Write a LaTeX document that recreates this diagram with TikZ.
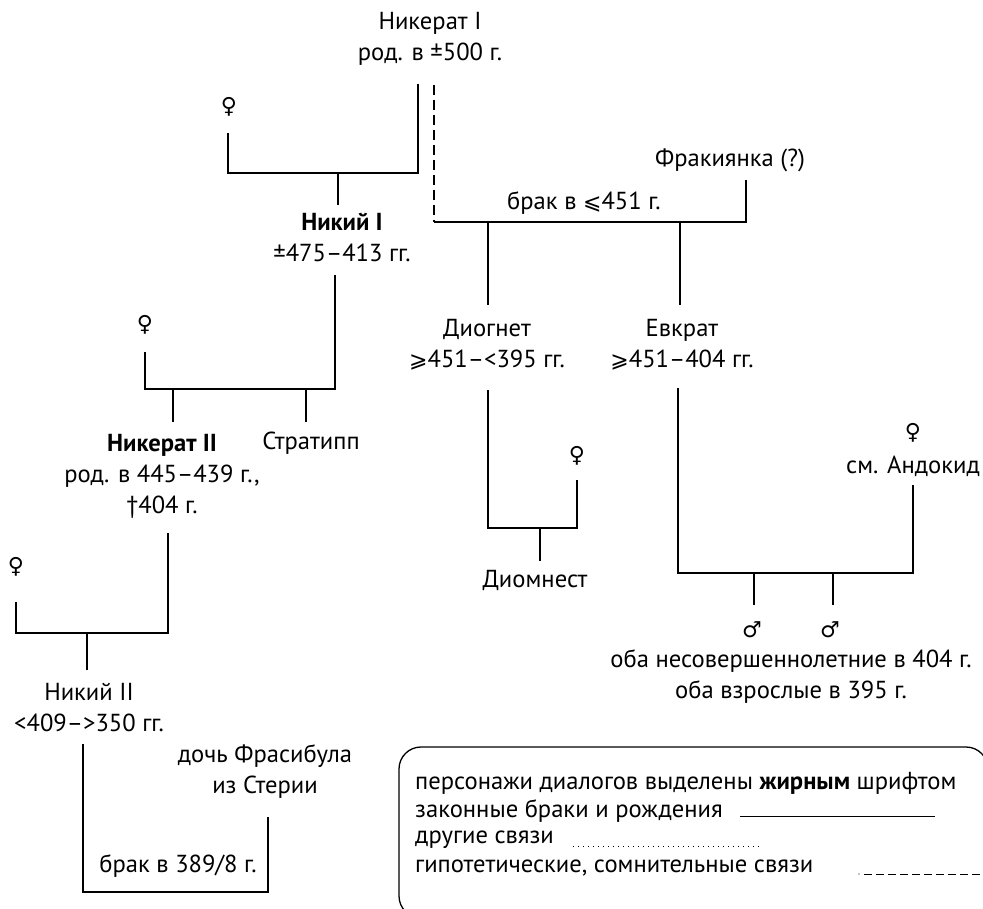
\documentclass[tikz,border=0pt]{standalone}
\usepackage{fontspec}
\setmainfont{PT Sans}
\newfontfamily\symf{DejaVu Sans}
\begin{document}
\begin{tikzpicture}[x=1pt,y=-1pt,
  txt/.style={inner sep=0pt, align=center, font=\fontsize{24.6}{31}\selectfont},
  lgd/.style={inner sep=0pt, anchor=west, font=\fontsize{24.6}{29}\selectfont},
  sym/.style={inner sep=0pt, font=\symf\fontsize{22}{22}\selectfont},
  ln/.style={line width=1.3pt},
  dsh/.style={line width=1.3pt, dash pattern=on 10pt off 5pt},
  dts/.style={line width=1pt, dash pattern=on 1pt off 4pt},
  lgdash/.style={line width=1pt, dash pattern=on 8pt off 4pt},
]
\useasboundingbox (0,0) rectangle (983,909);
\newcommand{\lesym}{{\symf\fontsize{22}{22}\selectfont ⩽}}
\newcommand{\gesym}{{\symf\fontsize{22}{22}\selectfont ⩾}}

% ---------- persons ----------
\node[txt] (N1) at (430,39) {Никерат I\\род. в ±500 г.};
\node[sym] (W1) at (229,107) {♀};
\node[txt] (K1) at (342,237) {\textbf{Никий I}\\±475–413 гг.};
\node[txt] (TH) at (730,160) {Фракиянка (?)};
\node[txt] (M1) at (584,203) {брак в \lesym451 г.};
\node[txt] (DG) at (487,345) {Диогнет\\\gesym451–<395 гг.};
\node[txt] (EV) at (682,345) {Евкрат\\\gesym451–404 гг.};
\node[sym] (W2) at (145,325) {♀};
\node[txt] (N2) at (162,476) {\textbf{Никерат II}\\род. в 445–439 г.,\\†404 г.};
\node[txt] (ST) at (311,443) {Стратипп};
\node[sym] (W3) at (577,456) {♀};
\node[txt] (DM) at (535,580) {Диомнест};
\node[sym] (W4) at (913,433) {♀};
\node[txt] (AN) at (913,466) {см. Андокид};
\node[sym] (S1) at (752,630) {♂};
\node[sym] (S2) at (830,630) {♂};
\node[txt] (SN) at (791,677) {оба несовершеннолетние в 404 г.\\оба взрослые в 395 г.};
\node[sym] (W5) at (16,567) {♀};
\node[txt] (K2) at (89,708) {Никий II\\<409–>350 гг.};
\node[txt] (DF) at (265,772) {дочь Фрасибула\\из Стерии};
\node[txt] (M2) at (178,866) {брак в 389/8 г.};

% ---------- junction coordinates ----------
\coordinate (n1s) at (418,84);
\coordinate (j1r) at (418,173);
\coordinate (j1l) at (228,173);
\coordinate (w1s) at (228,133);
\coordinate (j1m) at (338,173);
\coordinate (k1n) at (338,205);

\coordinate (n1d) at (434,85);
\coordinate (j2l) at (434,222);
\coordinate (j2r) at (746,222);
\coordinate (ths) at (746,180);
\coordinate (j2a) at (488,222);
\coordinate (dgn) at (488,305);
\coordinate (j2b) at (680,222);
\coordinate (evn) at (680,305);

\coordinate (k1s) at (335,275);
\coordinate (j3r) at (335,389);
\coordinate (j3l) at (145,389);
\coordinate (w2s) at (145,352);
\coordinate (j3a) at (173,389);
\coordinate (n2n) at (173,422);
\coordinate (j3b) at (306,389);
\coordinate (stn) at (306,422);

\coordinate (dgs) at (488,390);
\coordinate (j4l) at (488,528);
\coordinate (j4r) at (577,528);
\coordinate (w3s) at (577,480);
\coordinate (j4m) at (540,528);
\coordinate (dmn) at (540,561);

\coordinate (evs) at (678,388);
\coordinate (j5l) at (678,573);
\coordinate (j5r) at (913,573);
\coordinate (ans) at (913,485);
\coordinate (j5a) at (754,573);
\coordinate (s1n) at (754,605);
\coordinate (j5b) at (833,573);
\coordinate (s2n) at (833,605);

\coordinate (n2s) at (168,533);
\coordinate (j6r) at (168,633);
\coordinate (j6l) at (16,633);
\coordinate (w5s) at (16,602);
\coordinate (j6m) at (87,633);
\coordinate (k2n) at (87,670);

\coordinate (k2s) at (83,744);
\coordinate (j7l) at (83,892);
\coordinate (j7r) at (268,892);
\coordinate (dfs) at (268,817);

% ---------- connectors ----------
\draw[ln] (n1s) -- (j1r) -- (j1l) -- (w1s);
\draw[ln] (j1m) -- (k1n);
\draw[dsh] (n1d) -- (j2l);
\draw[ln] (j2l) -- (j2r) -- (ths);
\draw[ln] (j2a) -- (dgn);
\draw[ln] (j2b) -- (evn);
\draw[ln] (k1s) -- (j3r) -- (j3l) -- (w2s);
\draw[ln] (j3a) -- (n2n);
\draw[ln] (j3b) -- (stn);
\draw[ln] (dgs) -- (j4l) -- (j4r) -- (w3s);
\draw[ln] (j4m) -- (dmn);
\draw[ln] (evs) -- (j5l) -- (j5r) -- (ans);
\draw[ln] (j5a) -- (s1n);
\draw[ln] (j5b) -- (s2n);
\draw[ln] (n2s) -- (j6r) -- (j6l) -- (w5s);
\draw[ln] (j6m) -- (k2n);
\draw[ln] (k2s) -- (j7l) -- (j7r) -- (dfs);

% ---------- legend ----------
\begin{scope}
\clip (0,0) rectangle (983,909);
\draw[ln, rounded corners=22pt] (399,747) rectangle (988,918);
\end{scope}
\node[lgd] (L1) at (415,783) {персонажи диалогов выделены \textbf{жирным} шрифтом};
\node[lgd] (L2) at (415,811) {законные браки и рождения};
\node[lgd] (L3) at (415,840) {другие связи};
\node[lgd] (L4) at (415,868) {гипотетические, сомнительные связи};
\coordinate (l2a) at (740,816);
\coordinate (l2b) at (935,816);
\coordinate (l3a) at (573,846);
\coordinate (l3b) at (760,846);
\coordinate (l4d) at (859,874);
\coordinate (l4a) at (864,874);
\coordinate (l4b) at (981,874);
\draw[line width=1pt] (l2a) -- (l2b);
\draw[dts] (l3a) -- (l3b);
\fill (l4d) circle (0.6pt);
\draw[lgdash] (l4a) -- (l4b);
\end{tikzpicture}
\end{document}
